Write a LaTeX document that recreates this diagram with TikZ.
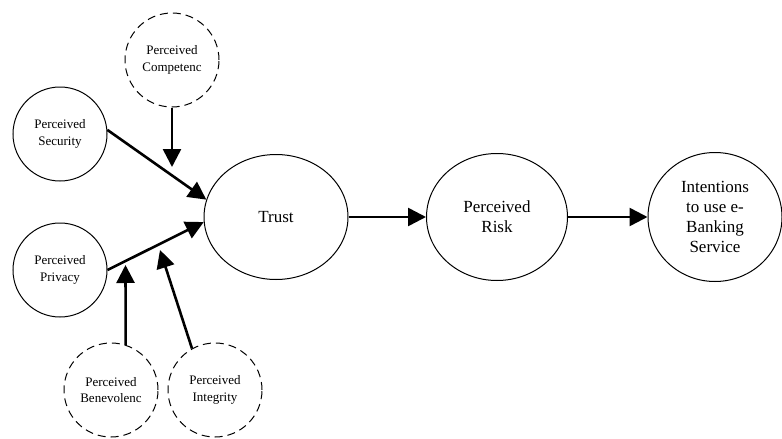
\documentclass[tikz,border=0pt]{standalone}
\usepackage{fontspec}
\setmainfont{Liberation Serif}
\usetikzlibrary{shapes.geometric,arrows.meta}

\begin{document}
\begin{tikzpicture}[x=1pt,y=-1pt,
  factor/.style={circle,draw=black,line width=1pt,minimum size=94pt,inner sep=0pt,align=center,font=\fontsize{13}{16.5}\selectfont},
  moderator/.style={factor,dash pattern=on 8pt off 5pt},
  construct/.style={ellipse,draw=black,line width=1pt,inner sep=0pt,align=center,font=\fontsize{17}{20}\selectfont},
  link/.style={-{Triangle[length=18pt,width=18pt]},line width=2.6pt}]

%SPACING
\useasboundingbox (0,0) rectangle (782,439);
%SPACING

\node[moderator](v1) at (172,60) {Perceived\\Competenc};
\node[factor](v2) at (60,134) {Perceived\\Security};
\node[factor](v3) at (60,270) {Perceived\\Privacy};
\node[construct,minimum width=144pt,minimum height=125pt](v4) at (276,217) {Trust};
\node[construct,minimum width=141pt,minimum height=127pt](v5) at (497,217) {Perceived\\Risk};
\node[construct,minimum width=134pt,minimum height=129pt](v6) at (715,217) {Intentions\\to use e-\\Banking\\Service};
\node[moderator](v7) at (111,390) {Perceived\\Benevolenc};
\node[moderator](v8) at (215,390) {Perceived\\Integrity};

%ARROW ENDS
\coordinate (c1) at (172,167);
\coordinate (c2) at (125.5,265);
\coordinate (c3) at (160,250);
%ARROW ENDS

\draw[link] (v1.south) -- (c1);
\draw[link] (v2.5) -- (v4.166);
\draw[link] (v3.east) -- (v4.184);
\draw[link] (v7.72) -- (c2);
\draw[link] (v8.119) -- (c3);

\draw[link] (v4) -- (v5);
\draw[link] (v5) -- (v6);

\end{tikzpicture}
\end{document}
